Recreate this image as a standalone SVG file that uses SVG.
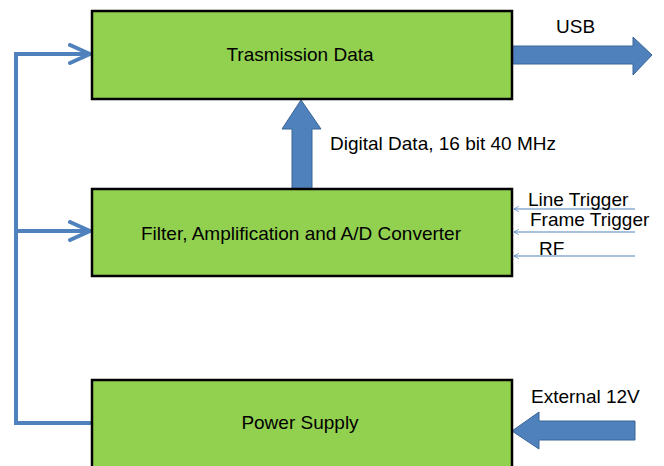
<svg xmlns="http://www.w3.org/2000/svg" width="664" height="466" viewBox="0 0 664 466">
<style>
.box{fill:#92D050;stroke:#000;stroke-width:2.5}
.t{font-family:"Liberation Sans",Arial,sans-serif;font-size:19px;fill:#000}
.fat{fill:#4F81BD;stroke:#3A6496;stroke-width:1}
.bus{fill:none;stroke:#4F81BD;stroke-width:4}
.thin{fill:none;stroke:#4F81BD;stroke-width:1}
</style>
<defs>
<marker id="open" viewBox="0 0 10 10" refX="9" refY="5" markerWidth="7" markerHeight="6" markerUnits="userSpaceOnUse" orient="auto">
<path d="M1,0.5 L9,5 L1,9.5" fill="none" stroke="#4F81BD" stroke-width="1.2"/>
</marker>
<marker id="chev" viewBox="0 0 24 22" refX="22" refY="11" markerWidth="24" markerHeight="22" markerUnits="userSpaceOnUse" orient="auto">
<path d="M2,2 L22,11 L2,20" fill="none" stroke="#4F81BD" stroke-width="4" stroke-linecap="round" stroke-linejoin="round"/>
</marker>
</defs>
<g id="connectors">
<path class="bus" d="M92,423 L16,423 L16,54 L90,54" marker-end="url(#chev)"/>
<path class="bus" d="M16,231 L90,231" marker-end="url(#chev)"/>
<path class="fat" d="M512,46 L633,46 L633,37 L652,55 L633,75 L633,64 L512,64 Z"/>
<path class="fat" d="M292,189 L292,129 L282,129 L301,100 L321,129 L312,129 L312,189 Z"/>
<path class="fat" d="M635,421 L539,421 L539,412 L512,431 L539,449 L539,440 L635,440 Z"/>
<line class="thin" x1="635" y1="209" x2="514" y2="209" marker-end="url(#open)"/>
<line class="thin" x1="635" y1="232" x2="514" y2="232" marker-end="url(#open)"/>
<line class="thin" x1="635" y1="256" x2="514" y2="256" marker-end="url(#open)"/>
</g>
<g id="trasmission">
<rect class="box" x="92" y="11" width="420" height="88"/>
<text class="t" x="300" y="61" text-anchor="middle">Trasmission Data</text>
</g>
<g id="filter">
<rect class="box" x="92" y="189" width="420" height="87"/>
<text class="t" x="301" y="240" text-anchor="middle">Filter, Amplification and A/D Converter</text>
</g>
<g id="power">
<rect class="box" x="92" y="380" width="420" height="95"/>
<text class="t" x="300" y="429" text-anchor="middle">Power Supply</text>
</g>
<g id="labels">
<text class="t" x="556" y="33">USB</text>
<text class="t" x="330" y="150">Digital Data, 16 bit 40 MHz</text>
<text class="t" x="528" y="206">Line Trigger</text>
<text class="t" x="530" y="226">Frame Trigger</text>
<text class="t" x="539" y="255">RF</text>
<text class="t" x="531" y="403">External 12V</text>
</g>
</svg>
